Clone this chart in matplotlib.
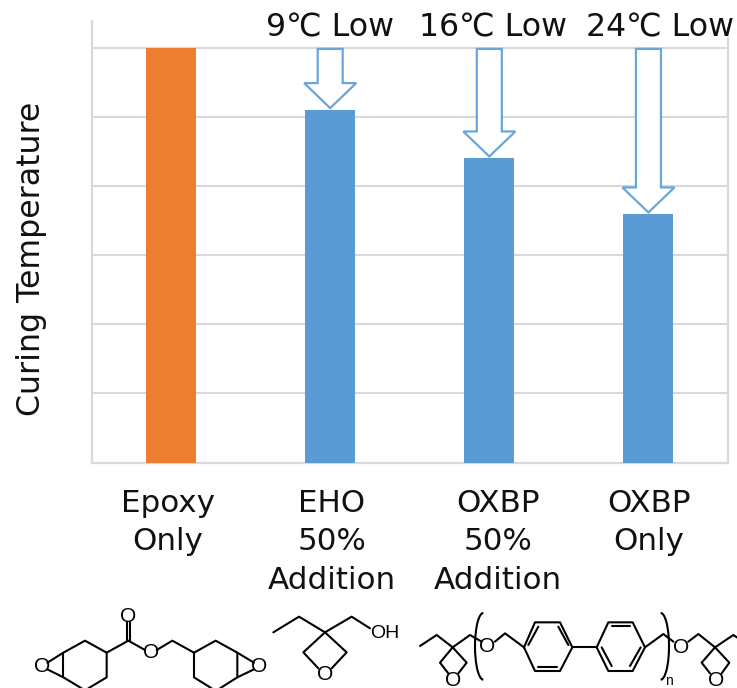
import matplotlib
matplotlib.use("Agg")
import matplotlib.pyplot as plt
import numpy as np
from matplotlib.patches import Polygon, Arc

# ---- data ----
categories = ["Epoxy\nOnly", "EHO\n50%\nAddition", "OXBP\n50%\nAddition", "OXBP\nOnly"]
values = [6.0, 5.10, 4.40, 3.59]
bar_colors = ["#ED7D31", "#5B9BD5", "#5B9BD5", "#5B9BD5"]
drop_labels = ["", "9℃ Low", "16℃ Low", "24℃ Low"]
y_ticks = [0, 1, 2, 3, 4, 5, 6]
y_label = "Curing Temperature"

W, H = 737, 688
plt.rcParams['font.family'] = ['DejaVu Sans']
fig = plt.figure(figsize=(W / 100, H / 100), dpi=100)

L, R, T, B = 91.5, 728, 21, 462.5
ax = fig.add_axes([L / W, 1 - B / H, (R - L) / W, (B - T) / H])
ax.set_xlim(-0.5, 3.5)
unit_y = 69.1
unit_x = 159.0
ymax = (B - T) / unit_y
ax.set_ylim(0, ymax)
ax.bar(range(4), values, width=50 / 159, color=bar_colors, zorder=3)
ax.set_yticks(y_ticks)
ax.set_xticks([])
ax.tick_params(left=False, labelleft=False)
ax.grid(axis='y', color='#D9D9D9', lw=1.5, zorder=0)
ax.set_axisbelow(True)
for s in ['left', 'right', 'bottom']:
    ax.spines[s].set_color('#D9D9D9')
    ax.spines[s].set_linewidth(1.6)
ax.spines['top'].set_visible(False)
ax.spines['right'].set_bounds(0, (B - 38) / unit_y)

TXT = 22.3
# drop arrows, derived from the bar heights
for i, (v, lab) in enumerate(zip(values, drop_labels)):
    if lab:
        tip = v + 2 / unit_y
        top = 6 - 1 / unit_y
        hw = 26 / unit_x
        sw = 12.5 / unit_x
        hh = 25 / unit_y
        pts = [(i - sw, top), (i + sw, top), (i + sw, tip + hh), (i + hw, tip + hh),
               (i, tip), (i - hw, tip + hh), (i - sw, tip + hh)]
        ax.add_patch(Polygon(pts, closed=True, fc='white', ec='#6AA5DB', lw=1.6, zorder=4, joinstyle='miter'))

# overlay in pixel coordinates for labels and chemical structures
ov = fig.add_axes([0, 0, 1, 1], facecolor='none')
ov.set_xlim(0, W)
ov.set_ylim(H, 0)
ov.axis('off')

label_x = [168, 332, 498, 649]
for x, c in zip(label_x, categories):
    ov.text(x, 488.5, c, ha='center', va='top', fontsize=TXT, color='#111111', linespacing=1.42)
drop_x = [0, 330.5, 493.5, 660]
for x, lab in zip(drop_x, drop_labels):
    if lab:
        ov.text(x, 28, lab, ha='center', va='center', fontsize=22.8, color='#111111')
ov.text(32, 258.5, y_label, rotation=90, ha='center', va='center', fontsize=22.8, color='#111111')


def seg(x0, y0, zoomed, lw=1.5):
    for path in zoomed:
        xs = [x0 + p[0] / 3 for p in path]
        ys = [590 + p[1] / 3 for p in path]
        ov.plot(xs, ys, color='black', lw=lw, solid_capstyle='round', clip_on=True)


def atom(x0, zx, zy, s='O', size=15):
    ov.text(x0 + zx / 3, 590 + zy / 3, s, ha='center', va='center', fontsize=size,
            family='Liberation Sans', color='black')


# epoxy structure (ring system)
seg(0, 0, [
    [(142, 218), (190, 188), (255, 152), (320, 188), (320, 262), (265, 295)],
    [(142, 238), (190, 262), (245, 295)],
    [(190, 188), (190, 262)],
    [(320, 188), (385, 152), (435, 180)],
    [(380, 152), (380, 97)], [(391, 152), (391, 97)],
    [(470, 180), (517, 152), (582, 188), (647, 152), (712, 188), (762, 218)],
    [(582, 188), (582, 262), (635, 295)],
    [(712, 188), (712, 262), (660, 295)],
    [(712, 262), (762, 238)],
])
atom(0, 125, 228); atom(0, 385, 78); atom(0, 452, 188); atom(0, 778, 228)

# EHO
seg(0, 0, [
    [(820, 127), (897, 80), (975, 127), (1055, 80), (1110, 115)],
    [(975, 127), (910, 187), (955, 235)],
    [(975, 127), (1040, 187), (995, 235)],
])
atom(0, 975, 255); atom(0, 1153, 130, 'OH', 14)

# OXBP
X = 400
seg(X, 0, [
    [(60, 168), (110, 135), (158, 172), (210, 135), (245, 155)],
    [(158, 172), (120, 218), (145, 250)],
    [(158, 172), (200, 218), (175, 250)],
    [(285, 155), (315, 130), (372, 172)],
    [(372, 172), (405, 97), (480, 97), (517, 172), (480, 243), (405, 243), (372, 172)],
    [(385, 165), (415, 110)], [(415, 230), (470, 230)], [(475, 110), (505, 165)],
    [(517, 172), (590, 172)],
    [(590, 172), (625, 97), (698, 97), (735, 172), (698, 243), (625, 243), (590, 172)],
    [(635, 108), (690, 108)], [(605, 172), (635, 228)], [(722, 172), (690, 228)],
    [(735, 172), (790, 132), (820, 155)],
    [(865, 155), (895, 132), (945, 172), (1000, 135), (1012, 143)],
    [(945, 172), (905, 218), (930, 250)],
    [(945, 172), (988, 218), (965, 250)],
])
atom(X, 260, 170); atom(X, 160, 270); atom(X, 842, 172); atom(X, 947, 270)
atom(X, 808, 272, 'n', 10)
ov.add_patch(Arc((X + 250 / 3, 590 + 169 / 3), 50 / 3, 200 / 3, theta1=90, theta2=270, color='black', lw=1.5))
ov.add_patch(Arc((X + 782 / 3, 590 + 169 / 3), 50 / 3, 200 / 3, theta1=270, theta2=90, color='black', lw=1.5))

fig.savefig("out.png", dpi=100)
